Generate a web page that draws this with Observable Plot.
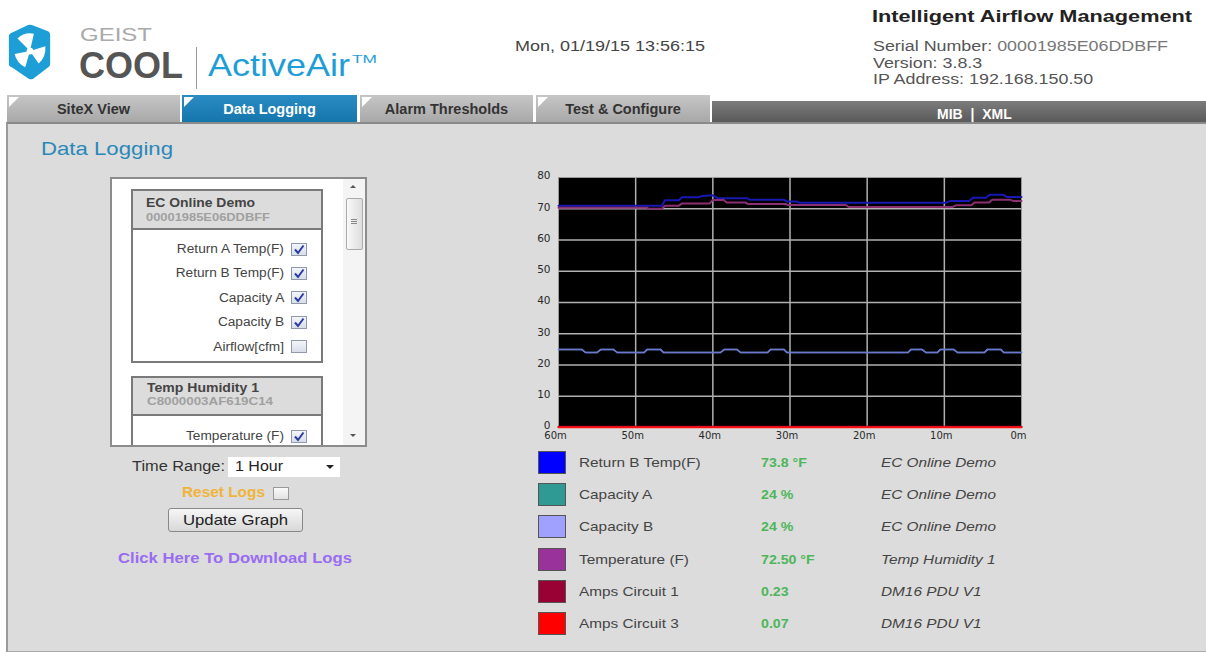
<!DOCTYPE html>
<html>
<head>
<meta charset="utf-8">
<script src="https://cdn.jsdelivr.net/npm/d3@7"></script>
<script src="https://cdn.jsdelivr.net/npm/@observablehq/plot@0.6"></script>
<style>
  html, body { margin: 0; padding: 0; background: #fff; }
  body { width: 1206px; height: 652px; overflow: hidden; font-family: "Liberation Sans", Arial, sans-serif; }
  #root { position: relative; width: 1206px; height: 652px; }
  .abs { position: absolute; white-space: nowrap; }
  .tab { position: absolute; top: 95px; height: 27px; line-height: 29px; text-align: center;
         font-family: "Liberation Sans", Arial, sans-serif; font-weight: bold; font-size: 14.5px;
         color: #333; background: linear-gradient(#c6c6c6, #a8a8a8); }
  .tab.active { background: linear-gradient(#2a8cc4, #1576ac); color: #fff; }
  .tab .tri { position: absolute; left: 2px; top: 2px; width: 0; height: 0;
              border-top: 10px solid #fff; border-right: 10px solid transparent; }
  .cb { position: absolute; width: 14px; height: 11px; border: 1px solid #8e99ab;
        background: linear-gradient(#f4f6fa, #d8dde8); }
  .cblabel { position: absolute; font-size: 12px; line-height: 16px; color: #444; text-align: right;
             transform: scaleX(1.14); transform-origin: right center; }
  .legrow { position: absolute; left: 538px; height: 24px; width: 480px; }
  .sw { position: absolute; left: 0; top: 0; width: 26px; height: 21px; border: 1px solid #555; }
  .lt { position: absolute; top: 2px; line-height: 20px; transform: scaleX(1.18); transform-origin: left center; }
  .lname { left: 41px; font-size: 13px; color: #444; }
  .lval { left: 223px; font-size: 12px; color: #4db65a; font-weight: bold; }
  .ldev { left: 343px; font-size: 13px; color: #444; font-style: italic; }
</style>
</head>
<body>
<div id="root"></div>
<script>
// ---------------- data ----------------
const xTicks = [60, 50, 40, 30, 20, 10, 0];
const yTicks = [0, 10, 20, 30, 40, 50, 60, 70, 80];

// [minutes ago, value]
const returnBTemp = [[60,71],[46.6,71],[46.2,72.7],[44.4,72.7],[44.0,73.7],[41.8,73.7],[41.4,74.1],[40,74.3],[39.4,73.4],[35.6,73.4],[35.2,72.9],[30.8,72.9],[30.4,72.3],[29.1,72.3],[28.7,71.9],[9.8,71.9],[9.2,72.5],[6.8,72.5],[6.3,73.5],[4.6,73.5],[4.1,74.5],[2.4,74.5],[1.9,73.8],[0,73.8]];
const capacityA = [[60,25],[57,25],[56.5,24],[55,24],[54.5,25],[52.9,25],[52.4,24],[48.9,24],[48.5,25],[46.8,25],[46.4,24],[39,24],[38.5,25],[36.9,25],[36.4,24],[32.9,24],[32.5,25],[30.8,25],[30.4,24],[14.7,24],[14.3,25],[12.9,25],[12.4,24],[10.9,24],[10.5,25],[8.8,25],[8.3,24],[4.8,24],[4.4,25],[2.7,25],[2.3,24],[0,24]];
const capacityB = [[60,25],[57,25],[56.5,24],[55,24],[54.5,25],[52.9,25],[52.4,24],[48.9,24],[48.5,25],[46.8,25],[46.4,24],[39,24],[38.5,25],[36.9,25],[36.4,24],[32.9,24],[32.5,25],[30.8,25],[30.4,24],[14.7,24],[14.3,25],[12.9,25],[12.4,24],[10.9,24],[10.5,25],[8.8,25],[8.3,24],[4.8,24],[4.4,25],[2.7,25],[2.3,24],[0,24]];
const temperatureF = [[60,70.3],[48.5,70.3],[48.3,70.0],[46.6,70.0],[46.2,71.0],[44.4,71.0],[44.0,71.7],[40.4,71.7],[40.0,72.8],[38.6,72.8],[38.2,72.0],[35.8,72.0],[35.4,71.5],[30.6,71.5],[30.2,71.2],[22.8,71.2],[22.4,70.6],[8.9,70.6],[8.5,71.1],[6.5,71.1],[6.1,72.0],[4.2,72.0],[3.8,72.9],[1.5,72.9],[1.1,72.5],[0,72.5]];
const ampsCircuit1 = [[60,0.23],[0,0.23]];
const ampsCircuit3 = [[60,0.07],[0,0.07]];

const seriesNames   = ["Return B Temp(F)", "Capacity A", "Capacity B", "Temperature (F)", "Amps Circuit 1", "Amps Circuit 3"];
const seriesValues  = ["73.8 °F", "24 %", "24 %", "72.50 °F", "0.23", "0.07"];
const seriesDevices = ["EC Online Demo", "EC Online Demo", "EC Online Demo", "Temp Humidity 1", "DM16 PDU V1", "DM16 PDU V1"];
const seriesColors  = ["#0000ff", "#2f9994", "#a0a0ff", "#993399", "#990033", "#ff0000"];
const lineColors    = ["#1818b4", "#2f9994", "#7474d4", "#8a3070", "#990033", "#ff1010"];
const lineWidths    = [2, 1.5, 1.5, 2, 2, 2];
const seriesData    = [returnBTemp, capacityA, capacityB, temperatureF, ampsCircuit1, ampsCircuit3];

const sensors1 = ["Return A Temp(F)", "Return B Temp(F)", "Capacity A", "Capacity B", "Airflow[cfm]"];
const checked1 = [true, true, true, true, false];

// ---------------- page ----------------
const root = document.getElementById("root");
function add(html, parent = root) {
  parent.insertAdjacentHTML("beforeend", html);
  return parent.lastElementChild;
}
function fit(el, w, origin = "left center") {
  const cur = el.getBoundingClientRect().width;
  el.style.transformOrigin = origin;
  el.style.transform = `scaleX(${w / cur})`;
  return el;
}

// logo
add(`<svg class="abs" style="left:6px;top:20px" width="48" height="64" viewBox="0 0 50 64">
  <path d="M6 12 Q3 13 3 16 L3 44 Q3 47 6 48 L24 60 Q26 61 28 60 L44 48 Q46 47 46 44 L46 14 Q46 11 43 10 L27 4 Q25 3 23 4 Z" fill="#1e9ed6"/>
  <g fill="#fff">
    <path d="M25 31 L12 18 Q19 11 29 13 Z"/>
    <path d="M25 31 L41 26 Q42 37 34 44 Z"/>
    <path d="M25 31 L20 48 Q11 43 9 34 Z"/>
    <circle cx="25" cy="31" r="3.5"/>
  </g>
</svg>`);
fit(add(`<div class="abs" style="left:80px;top:27px;font-size:18px;line-height:16px;color:#a9a9a9">GEIST</div>`), 72);
fit(add(`<div class="abs" style="left:79px;top:48.5px;font-size:36px;line-height:34px;color:#555;font-weight:bold">COOL</div>`), 104);
add(`<div class="abs" style="left:196px;top:47px;width:1px;height:42px;background:#999"></div>`);
fit(add(`<div class="abs" style="left:208px;top:46px;font-size:32px;line-height:38px;color:#1e9ed6">ActiveAir</div>`), 142);
fit(add(`<div class="abs" style="left:352px;top:53px;font-size:11px;line-height:12px;color:#1e9ed6">TM</div>`), 25);

// header right
fit(add(`<div class="abs" style="left:515px;top:38px;font-size:14px;line-height:16px;color:#444">Mon, 01/19/15 13:56:15</div>`), 190);
fit(add(`<div class="abs" style="left:872px;top:7px;font-size:17px;line-height:20px;color:#222;font-weight:bold">Intelligent Airflow Management</div>`), 320);
fit(add(`<div class="abs" style="left:873px;top:38px;font-size:14px;line-height:16.5px;color:#555">Serial Number: <span style="color:#777">00001985E06DDBFF</span><br>Version: 3.8.3<br>IP Address: 192.168.150.50</div>`), 295);

// tabs
const tabs = [["SiteX View",7,173,false],["Data Logging",182,175,true],["Alarm Thresholds",360,173,false],["Test & Configure",536,174,false]];
tabs.forEach(([t,l,w,a]) => add(`<div class="tab${a ? " active" : ""}" style="left:${l}px;width:${w}px"><div class="tri"></div>${t.replace("&","&amp;")}</div>`));
add(`<div class="abs" style="left:712px;top:101px;width:494px;height:21px;background:linear-gradient(#7c7c7c,#5a5a5a)"></div>`);
add(`<div class="abs" style="left:937px;top:103px;color:#fff;font-weight:bold;font-size:14px;line-height:22px">MIB &nbsp;|&nbsp; XML</div>`);

// content area
add(`<div class="abs" style="left:6px;top:122px;width:1200px;height:527px;background:#dcdcdc;border-left:2px solid #9a9a9a;border-top:2px solid #8a8a8a;border-bottom:2px solid #aaa"></div>`);
fit(add(`<div class="abs" style="left:41px;top:138px;font-size:19px;line-height:22px;color:#2a88b8">Data Logging</div>`), 132);

// sensor panel
const panel = add(`<div class="abs" style="left:110px;top:177px;width:253px;height:266px;background:#fff;border:2px solid #8c8c8c;overflow:hidden"></div>`);
// card 1
add(`<div class="abs" style="left:19px;top:10px;width:188px;height:170px;border:2px solid #7a7a7a;background:#fff"></div>`, panel);
add(`<div class="abs" style="left:21px;top:12px;width:188px;height:37px;background:#dcdcdc;border-bottom:2px solid #7a7a7a"></div>`, panel);
fit(add(`<div class="abs" style="left:34px;top:17px;font-size:12px;line-height:14px;font-weight:bold;color:#444">EC Online Demo</div>`, panel), 109);
fit(add(`<div class="abs" style="left:34px;top:32px;font-size:11px;line-height:13px;font-weight:bold;color:#a0a0a0">00001985E06DDBFF</div>`, panel), 124);
const checkSvg = `<svg width="14" height="11" style="position:absolute;left:0;top:0"><path d="M3 5.5 L6 9 L11.5 1.5" fill="none" stroke="#2a3aa0" stroke-width="2"/></svg>`;
sensors1.forEach((s, i) => {
  const cy = 70 + i * 24.4;
  add(`<div class="cblabel" style="right:81px;top:${cy-8}px">${s}</div>`, panel);
  add(`<div class="cb" style="left:179px;top:${cy-6.5}px">${checked1[i] ? checkSvg : ""}</div>`, panel);
});
// card 2
add(`<div class="abs" style="left:19px;top:197px;width:188px;height:120px;border:2px solid #7a7a7a;background:#fff"></div>`, panel);
add(`<div class="abs" style="left:21px;top:199px;width:188px;height:36px;background:#dcdcdc;border-bottom:2px solid #7a7a7a"></div>`, panel);
fit(add(`<div class="abs" style="left:35px;top:202px;font-size:12px;line-height:14px;font-weight:bold;color:#444">Temp Humidity 1</div>`, panel), 112);
fit(add(`<div class="abs" style="left:35px;top:216px;font-size:11px;line-height:13px;font-weight:bold;color:#a0a0a0">C8000003AF619C14</div>`, panel), 126);
add(`<div class="cblabel" style="right:81px;top:249px">Temperature (F)</div>`, panel);
add(`<div class="cb" style="left:179px;top:250.5px">${checkSvg}</div>`, panel);
// scrollbar
add(`<div class="abs" style="left:231px;top:0px;width:22px;height:266px;background:#f4f4f4"></div>`, panel);
add(`<div class="abs" style="left:238px;top:6px;width:0;height:0;border-left:3px solid transparent;border-right:3px solid transparent;border-bottom:3px solid #555"></div>`, panel);
add(`<div class="abs" style="left:234px;top:19px;width:15px;height:50px;border:1px solid #aaa;border-radius:2px;background:linear-gradient(90deg,#f8f8f8,#dedede)"></div>`, panel);
add(`<div class="abs" style="left:239px;top:40px;width:6px;height:1px;background:#888;box-shadow:0 2px 0 #888,0 4px 0 #888"></div>`, panel);
add(`<div class="abs" style="left:238px;top:255px;width:0;height:0;border-left:3px solid transparent;border-right:3px solid transparent;border-top:3px solid #555"></div>`, panel);

// controls
fit(add(`<div class="abs" style="left:132px;top:458px;font-size:14px;line-height:17px;color:#333">Time Range:</div>`), 93);
add(`<div class="abs" style="left:228px;top:457px;width:112px;height:20px;background:#fff"></div>`);
fit(add(`<div class="abs" style="left:235px;top:458px;font-size:14px;line-height:17px;color:#222">1 Hour</div>`), 48);
add(`<div class="abs" style="left:326px;top:465px;width:0;height:0;border-left:4px solid transparent;border-right:4px solid transparent;border-top:4px solid #222"></div>`);
fit(add(`<div class="abs" style="left:182px;top:484px;font-size:14px;line-height:17px;color:#f0b43a;font-weight:bold">Reset Logs</div>`), 83);
add(`<div class="cb" style="left:273px;top:487px;background:linear-gradient(#fafafa,#e2e2e2);border-color:#999"></div>`);
add(`<div class="abs" style="left:168px;top:508px;width:133px;height:22px;border:1px solid #888;border-radius:3px;background:linear-gradient(#f6f6f6,#d8d8d8)"></div>`);
fit(add(`<div class="abs" style="left:183px;top:510px;font-size:15px;line-height:19px;color:#222">Update Graph</div>`), 105);
fit(add(`<div class="abs" style="left:118px;top:550px;font-size:14.5px;line-height:17px;color:#9a6cf0;font-weight:bold">Click Here To Download Logs</div>`), 234);

// legend
seriesNames.forEach((n, i) => {
  add(`<div class="legrow" style="top:${451 + i*32.2}px">
    <div class="sw" style="background:${seriesColors[i]}"></div>
    <div class="lt lname">${n}</div>
    <div class="lt lval">${seriesValues[i]}</div>
    <div class="lt ldev">${seriesDevices[i]}</div>
  </div>`);
});

// ---------------- chart ----------------
const rows = [];
seriesData.forEach((arr, k) => arr.forEach(([t, v]) => rows.push({series: seriesNames[k], t, v})));

const chart = Plot.plot({
  width: 510,
  height: 280,
  marginLeft: 38,
  marginRight: 9,
  marginTop: 12,
  marginBottom: 18,
  style: {background: "transparent", fontFamily: "'DejaVu Sans', sans-serif", fontSize: "10.5px", color: "#2a2a2a", overflow: "visible"},
  x: {domain: [60, 0], label: null},
  y: {domain: [0, 80], label: null},
  color: {domain: seriesNames, range: lineColors},
  marks: [
    Plot.frame({fill: "black", stroke: "#999"}),
    Plot.gridX(xTicks.slice(1, -1), {stroke: "#b0b0b0", strokeOpacity: 1, strokeWidth: 1.5}),
    Plot.gridY(yTicks.slice(1, -1), {stroke: "#b0b0b0", strokeOpacity: 1, strokeWidth: 1.5}),
    ...seriesNames.map((n, k) =>
      Plot.line(rows.filter(r => r.series === n), {x: "t", y: "v", stroke: "series", strokeWidth: lineWidths[k]})),
    Plot.axisX(xTicks, {tickFormat: d => d + "m", tickSize: 0, tickPadding: 4, dx: -3, fontSize: 10}),
    Plot.axisY(yTicks, {tickSize: 0, tickPadding: 8, dy: -1.5, fontSize: 10.5})
  ]
});
chart.style.position = "absolute";
chart.style.left = "520px";
chart.style.top = "165px";
root.appendChild(chart);
</script>
</body>
</html>
